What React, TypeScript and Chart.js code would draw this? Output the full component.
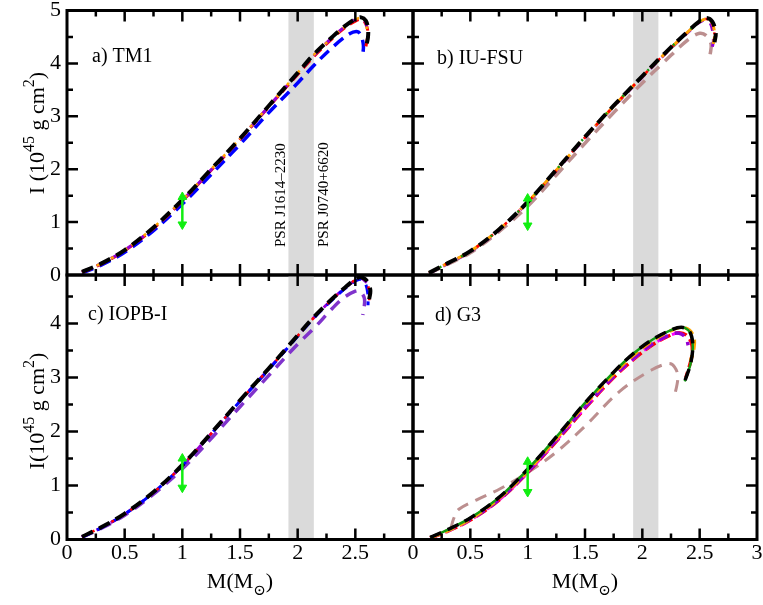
import React, { useEffect, useRef } from 'react';
import { Chart, registerables } from 'chart.js';
Chart.register(...registerables);

const FONT = '"Liberation Serif", "Times New Roman", "DejaVu Serif", serif';
const W = 763;
const H = 605;

// ---------- axis / annotation data ----------
const X_TICK_LABELS = ['0', '0.5', '1', '1.5', '2', '2.5', '3'];
const Y_TICK_LABELS = ['0', '1', '2', '3', '4', '5'];
const BAND = [1.92, 2.14];
const PSR_LABELS = ['PSR J1614\u20132230', 'PSR J0740+6620'];
const PANEL_LABELS = ['a) TM1', 'b) IU-FSU', 'c) IOPB-I', 'd) G3'];
const ARROW_M = 1.0;
const ARROW_A = [0.955, 1.475];
const ARROW_B = [0.935, 1.445];
const ARROW_C = [0.96, 1.5];
const ARROW_D = [0.88, 1.44];

type Pt = [number, number];

// ---------- a) TM1 ----------
const A_BLACK: Pt[] = [[0.13, 0.06], [0.3, 0.22], [0.5, 0.47], [0.75, 0.9], [1.0, 1.42], [1.25, 2.0], [1.5, 2.58], [1.75, 3.2], [2.0, 3.82], [2.14, 4.17], [2.3, 4.5], [2.4, 4.69], [2.5, 4.84], [2.55, 4.87], [2.59, 4.81], [2.61, 4.66], [2.61, 4.5], [2.6, 4.38]];
const A_RED: Pt[] = [[0.13, 0.05], [0.3, 0.21], [0.5, 0.46], [0.75, 0.88], [1.0, 1.4], [1.25, 1.98], [1.5, 2.56], [1.75, 3.18], [2.0, 3.79], [2.14, 4.13], [2.3, 4.47], [2.4, 4.66], [2.5, 4.8], [2.55, 4.83], [2.59, 4.75], [2.61, 4.58], [2.6, 4.42], [2.59, 4.3]];
const A_PURPLE: Pt[] = [[0.13, 0.06], [0.3, 0.22], [0.5, 0.47], [0.75, 0.89], [1.0, 1.41], [1.25, 1.99], [1.5, 2.57], [1.75, 3.19], [2.0, 3.81], [2.14, 4.15], [2.3, 4.49], [2.4, 4.68], [2.5, 4.83], [2.55, 4.85], [2.59, 4.78], [2.6, 4.6]];
const A_ORANGE: Pt[] = [[0.13, 0.06], [0.3, 0.22], [0.5, 0.47], [0.75, 0.9], [1.0, 1.42], [1.25, 2.0], [1.5, 2.58], [1.75, 3.2], [2.0, 3.82], [2.14, 4.16], [2.3, 4.49], [2.4, 4.68], [2.5, 4.83], [2.55, 4.86], [2.59, 4.79], [2.6, 4.65]];
const A_BLUE: Pt[] = [[0.13, 0.04], [0.3, 0.19], [0.5, 0.43], [0.75, 0.84], [1.0, 1.34], [1.25, 1.9], [1.5, 2.47], [1.75, 3.07], [2.0, 3.63], [2.14, 3.96], [2.3, 4.3], [2.45, 4.56], [2.52, 4.6], [2.55, 4.52], [2.57, 4.34], [2.565, 4.17]];

// ---------- b) IU-FSU ----------
const B_BLACK: Pt[] = [[0.14, 0.04], [0.3, 0.22], [0.5, 0.45], [0.75, 0.86], [1.0, 1.38], [1.25, 1.99], [1.5, 2.61], [1.75, 3.2], [2.0, 3.76], [2.2, 4.2], [2.4, 4.61], [2.5, 4.8], [2.56, 4.86], [2.61, 4.79], [2.64, 4.58], [2.63, 4.4]];
const B_RED: Pt[] = [[0.14, 0.04], [0.3, 0.22], [0.5, 0.45], [0.75, 0.86], [1.0, 1.38], [1.25, 1.98], [1.5, 2.6], [1.75, 3.19], [2.0, 3.75], [2.2, 4.19], [2.4, 4.6], [2.5, 4.79], [2.56, 4.84], [2.61, 4.76], [2.63, 4.55]];
const B_PURPLE: Pt[] = [[0.14, 0.03], [0.3, 0.21], [0.5, 0.44], [0.75, 0.85], [1.0, 1.37], [1.25, 1.97], [1.5, 2.59], [1.75, 3.18], [2.0, 3.74], [2.2, 4.18], [2.4, 4.59], [2.5, 4.78], [2.56, 4.82], [2.6, 4.72], [2.62, 4.45], [2.61, 4.3]];
const B_ORANGE: Pt[] = [[0.14, 0.04], [0.3, 0.22], [0.5, 0.45], [0.75, 0.86], [1.0, 1.38], [1.25, 1.98], [1.5, 2.6], [1.75, 3.19], [2.0, 3.75], [2.2, 4.19], [2.4, 4.6], [2.5, 4.79], [2.56, 4.84], [2.61, 4.76], [2.63, 4.55], [2.62, 4.37]];
const B_GREEN: Pt[] = [[0.14, 0.04], [0.3, 0.22], [0.5, 0.45], [0.75, 0.86], [1.0, 1.38], [1.25, 1.99], [1.5, 2.61], [1.75, 3.2], [2.0, 3.76], [2.2, 4.2], [2.4, 4.61], [2.5, 4.8], [2.56, 4.86], [2.6, 4.82]];
const B_ROSY: Pt[] = [[0.14, 0.03], [0.3, 0.2], [0.5, 0.42], [0.75, 0.82], [1.0, 1.3], [1.25, 1.89], [1.5, 2.49], [1.75, 3.07], [2.0, 3.63], [2.2, 4.05], [2.4, 4.45], [2.5, 4.57], [2.56, 4.52], [2.6, 4.36], [2.59, 4.15]];

// ---------- c) IOPB-I ----------
const C_BLACK: Pt[] = [[0.13, 0.05], [0.3, 0.23], [0.5, 0.48], [0.75, 0.88], [1.0, 1.38], [1.25, 1.97], [1.5, 2.58], [1.75, 3.17], [1.93, 3.61], [2.14, 4.12], [2.3, 4.46], [2.4, 4.65], [2.5, 4.82], [2.55, 4.86], [2.6, 4.79], [2.63, 4.62], [2.62, 4.45]];
const C_RED: Pt[] = [[0.13, 0.05], [0.3, 0.23], [0.5, 0.47], [0.75, 0.87], [1.0, 1.37], [1.25, 1.96], [1.5, 2.57], [1.75, 3.16], [1.93, 3.6], [2.14, 4.11], [2.3, 4.45], [2.4, 4.64], [2.5, 4.81], [2.55, 4.85], [2.6, 4.76], [2.62, 4.58], [2.62, 4.42]];
const C_BLUE: Pt[] = [[0.13, 0.04], [0.3, 0.22], [0.5, 0.47], [0.75, 0.87], [1.0, 1.37], [1.25, 1.96], [1.5, 2.56], [1.75, 3.15], [1.93, 3.59], [2.14, 4.1], [2.3, 4.44], [2.4, 4.63], [2.5, 4.79], [2.55, 4.82], [2.59, 4.73], [2.61, 4.52], [2.61, 4.34]];
const C_PURPLE: Pt[] = [[0.13, 0.05], [0.3, 0.22], [0.5, 0.47], [0.75, 0.87], [1.0, 1.37], [1.25, 1.96], [1.5, 2.57], [1.75, 3.16], [1.93, 3.6], [2.14, 4.11], [2.3, 4.45], [2.4, 4.64], [2.5, 4.8], [2.55, 4.84], [2.6, 4.76]];
const C_VIOLET: Pt[] = [[0.13, 0.04], [0.3, 0.21], [0.5, 0.45], [0.75, 0.84], [1.0, 1.31], [1.25, 1.87], [1.5, 2.46], [1.75, 3.04], [2.0, 3.62], [2.14, 3.91], [2.3, 4.28], [2.4, 4.48], [2.5, 4.6], [2.54, 4.6], [2.58, 4.45], [2.565, 4.16]];

// ---------- d) G3 ----------
const D_GREEN: Pt[] = [[0.15, 0.04], [0.3, 0.18], [0.5, 0.4], [0.75, 0.78], [1.0, 1.3], [1.25, 1.9], [1.5, 2.53], [1.75, 3.1], [1.93, 3.46], [2.1, 3.72], [2.25, 3.88], [2.34, 3.93], [2.4, 3.88], [2.43, 3.76], [2.44, 3.55], [2.42, 3.25], [2.37, 2.93]];
const D_BLACK: Pt[] = [[0.15, 0.04], [0.3, 0.18], [0.5, 0.4], [0.75, 0.78], [1.0, 1.3], [1.25, 1.9], [1.5, 2.53], [1.75, 3.1], [1.93, 3.46], [2.1, 3.72], [2.25, 3.88], [2.34, 3.93], [2.4, 3.88], [2.43, 3.76], [2.44, 3.55], [2.42, 3.25], [2.37, 2.93]];
const D_ORANGE: Pt[] = [[0.15, 0.03], [0.3, 0.16], [0.5, 0.38], [0.75, 0.76], [1.0, 1.27], [1.25, 1.87], [1.5, 2.5], [1.75, 3.07], [1.93, 3.43], [2.1, 3.7], [2.25, 3.87], [2.34, 3.93], [2.41, 3.88], [2.45, 3.74], [2.45, 3.55], [2.42, 3.3]];
const D_PURPLE: Pt[] = [[0.15, 0.03], [0.3, 0.16], [0.5, 0.37], [0.75, 0.74], [1.0, 1.25], [1.25, 1.84], [1.5, 2.45], [1.75, 3.02], [1.93, 3.37], [2.1, 3.64], [2.25, 3.8], [2.32, 3.82], [2.38, 3.74], [2.4, 3.6]];
const D_MAGENTA: Pt[] = [[0.15, 0.02], [0.3, 0.15], [0.5, 0.36], [0.75, 0.73], [1.0, 1.24], [1.25, 1.83], [1.5, 2.44], [1.75, 3.01], [1.93, 3.36], [2.1, 3.63], [2.25, 3.79], [2.32, 3.82], [2.38, 3.76]];
const D_RED: Pt[] = [[0.15, 0.03], [0.3, 0.15], [0.5, 0.36], [0.75, 0.73], [1.0, 1.24], [1.25, 1.82], [1.5, 2.43], [1.75, 3.0], [1.93, 3.35], [2.1, 3.62], [2.25, 3.79], [2.32, 3.83], [2.38, 3.79], [2.43, 3.63], [2.43, 3.38], [2.38, 3.0]];
const D_ROSY: Pt[] = [[0.33, 0.2], [0.355, 0.39], [0.4, 0.56], [0.56, 0.74], [0.76, 0.94], [1.0, 1.24], [1.25, 1.62], [1.5, 2.1], [1.8, 2.74], [2.08, 3.14], [2.23, 3.26], [2.28, 3.2], [2.31, 3.02], [2.28, 2.64]];

// ---------- styles ----------
const BLACK = '#000000';
const RED = '#ff0000';
const BLUE = '#0000ff';
const PURPLE = '#9400d3';
const ORANGE = '#ffa500';
const GREEN = '#119911';
const ROSY = '#bc8f8f';
const VIOLET = '#8033cc';
const MAGENTA = '#ff00ff';
const LIME = '#11ee11';

interface SeriesDef { data: Pt[]; color: string; width: number; dash: number[]; order: number; }
interface PanelDef {
  label: string; labelX: number; labelY: number;
  series: SeriesDef[]; arrow: number[];
  left: number; top: number; right: number; bottom: number; yMax: number;
  showX: boolean; showY: boolean; hideLastX: boolean; psr: boolean;
  yTitle: null | { parts: [string, number, number][]; cy: number };
  xTitle: boolean;
}

const S = (data: Pt[], color: string, width: number, dash: number[], order: number): SeriesDef => ({ data, color, width, dash, order });

const PANELS: PanelDef[] = [
  {
    label: PANEL_LABELS[0], labelX: 92, labelY: 62,
    series: [
      S(A_BLUE, BLUE, 3.5, [12, 7], 6),
      S(A_RED, RED, 3, [10, 6], 5),
      S(A_PURPLE, PURPLE, 3, [8, 8], 4),
      S(A_ORANGE, ORANGE, 2.5, [3, 5], 3),
      S(A_BLACK, BLACK, 4, [12, 7], 2),
    ],
    arrow: ARROW_A, left: 67, top: 10.5, right: 413, bottom: 275, yMax: 5,
    showX: false, showY: true, hideLastX: true, psr: true,
    yTitle: { parts: [['I (10', 22, 0], ['45', 16, -10], [' g cm', 22, 0], ['2', 16, -10], [')', 22, 0]], cy: 133 },
    xTitle: false,
  },
  {
    label: PANEL_LABELS[1], labelX: 437, labelY: 64,
    series: [
      S(B_ROSY, ROSY, 3.5, [12, 8], 7),
      S(B_PURPLE, PURPLE, 3, [8, 8], 6),
      S(B_ORANGE, ORANGE, 3, [10, 6], 5),
      S(B_RED, RED, 2.5, [3, 6], 4),
      S(B_GREEN, GREEN, 2.5, [2, 10], 3),
      S(B_BLACK, BLACK, 4, [12, 7], 2),
    ],
    arrow: ARROW_B, left: 413, top: 10.5, right: 758, bottom: 275, yMax: 5,
    showX: false, showY: false, hideLastX: false, psr: false, yTitle: null, xTitle: false,
  },
  {
    label: PANEL_LABELS[2], labelX: 88, labelY: 320,
    series: [
      S(C_VIOLET, VIOLET, 3.5, [12, 8], 7),
      S(C_PURPLE, PURPLE, 3, [8, 8], 6),
      S(C_BLUE, BLUE, 3, [10, 7], 5),
      S(C_RED, RED, 2.5, [3, 8], 4),
      S(C_BLACK, BLACK, 4, [12, 7], 2),
    ],
    arrow: ARROW_C, left: 67, top: 275, right: 413, bottom: 539.5, yMax: 4.9,
    showX: true, showY: true, hideLastX: true, psr: false,
    yTitle: { parts: [['I(10', 22, 0], ['45', 16, -10], [' g cm', 22, 0], ['2', 16, -10], [')', 22, 0]], cy: 411 },
    xTitle: true,
  },
  {
    label: PANEL_LABELS[3], labelX: 435, labelY: 321,
    series: [
      S(D_ROSY, ROSY, 3, [12, 8], 9),
      S(D_RED, RED, 3.5, [12, 5], 8),
      S(D_MAGENTA, MAGENTA, 3, [8, 8], 7),
      S(D_PURPLE, PURPLE, 3.5, [10, 7], 6),
      S(D_ORANGE, ORANGE, 3.5, [10, 6], 5),
      S(D_GREEN, GREEN, 2.5, [], 3),
      S(D_BLACK, BLACK, 3.5, [12, 7], 2),
    ],
    arrow: ARROW_D, left: 413, top: 275, right: 758, bottom: 539.5, yMax: 4.9,
    showX: true, showY: false, hideLastX: false, psr: false, yTitle: null, xTitle: true,
  },
];

function drawRich(ctx: CanvasRenderingContext2D, parts: [string, number, number][], cx: number, cy: number, rot: number) {
  ctx.save();
  ctx.translate(cx, cy);
  ctx.rotate(rot);
  ctx.fillStyle = '#000';
  ctx.textAlign = 'left';
  ctx.textBaseline = 'alphabetic';
  const widths = parts.map(([t, size]) => {
    ctx.font = `${size}px ${FONT}`;
    return ctx.measureText(t).width;
  });
  let x = -widths.reduce((a, b) => a + b, 0) / 2;
  parts.forEach(([t, size, shift], i) => {
    ctx.font = `${size}px ${FONT}`;
    ctx.fillText(t, x, shift);
    x += widths[i];
  });
  ctx.restore();
}

function makePlugin(p: PanelDef, idx: number) {
  return {
    id: 'panelDeco' + idx,
    beforeDatasetsDraw(chart: any) {
      const { ctx, chartArea: a, scales } = chart;
      const x = scales.x;
      const x1 = x.getPixelForValue(BAND[0]);
      const x2 = x.getPixelForValue(BAND[1]);
      ctx.save();
      ctx.fillStyle = '#dadada';
      ctx.fillRect(x1, a.top, x2 - x1, a.bottom - a.top);
      if (p.psr) {
        ctx.fillStyle = '#000';
        ctx.font = `15px ${FONT}`;
        ctx.textAlign = 'left';
        ctx.textBaseline = 'alphabetic';
        ctx.save();
        ctx.translate(x1 - 3, a.top + 236.5);
        ctx.rotate(-Math.PI / 2);
        ctx.fillText(PSR_LABELS[0], 0, 0);
        ctx.restore();
        ctx.save();
        ctx.translate(x2 + 14, a.top + 236.5);
        ctx.rotate(-Math.PI / 2);
        ctx.fillText(PSR_LABELS[1], 0, 0);
        ctx.restore();
      }
      ctx.restore();
    },
    afterDraw(chart: any) {
      const { ctx, chartArea: a, scales } = chart;
      const x = scales.x;
      const y = scales.y;
      ctx.save();
      ctx.strokeStyle = '#000';
      ctx.lineWidth = 2.5;
      ctx.lineCap = 'butt';
      ctx.beginPath();
      for (let k = 1; k < 12; k++) {
        const v = k * 0.25;
        const px = x.getPixelForValue(v);
        const len = k % 2 === 0 ? 11 : 6;
        ctx.moveTo(px, a.bottom); ctx.lineTo(px, a.bottom - len);
        ctx.moveTo(px, a.top); ctx.lineTo(px, a.top + len);
      }
      for (let k = 1; k * 0.5 < p.yMax; k++) {
        const v = k * 0.5;
        const py = y.getPixelForValue(v);
        const len = k % 2 === 0 ? 11 : 6;
        ctx.moveTo(a.left, py); ctx.lineTo(a.left + len, py);
        ctx.moveTo(a.right, py); ctx.lineTo(a.right - len, py);
      }
      ctx.stroke();
      ctx.lineWidth = 3;
      ctx.strokeRect(a.left, a.top, a.right - a.left, a.bottom - a.top);

      ctx.fillStyle = '#000';
      ctx.font = `20px ${FONT}`;
      ctx.textAlign = 'left';
      ctx.textBaseline = 'alphabetic';
      ctx.fillText(p.label, p.labelX, p.labelY);
      ctx.restore();

      if (p.yTitle) drawRich(ctx, p.yTitle.parts, 44, p.yTitle.cy, -Math.PI / 2);
      if (p.xTitle) {
        drawRich(ctx, [['M(M', 22, 0], ['\u2299', 15, 7], [')', 22, 0]], (a.left + a.right) / 2, 588, 0);
      }
    },
  };
}

function buildConfig(p: PanelDef, idx: number): any {
  const datasets: any[] = p.series.map((s) => ({
    data: s.data.map(([mx, iy]) => ({ x: mx, y: iy })),
    showLine: true,
    borderColor: s.color,
    backgroundColor: s.color,
    borderWidth: s.width,
    borderDash: s.dash,
    borderCapStyle: 'butt',
    pointRadius: 0,
    tension: 0.35,
    fill: false,
    order: s.order,
  }));
  datasets.push({
    data: [{ x: ARROW_M, y: p.arrow[0] }, { x: ARROW_M, y: p.arrow[1] }],
    showLine: true,
    borderColor: LIME,
    borderWidth: 2.5,
    pointStyle: 'triangle',
    pointRadius: 5,
    pointRotation: [180, 0],
    pointBackgroundColor: LIME,
    pointBorderColor: LIME,
    pointBorderWidth: 1,
    tension: 0,
    order: 0,
  });
  const tickFont = { family: FONT, size: 22 };
  return {
    type: 'scatter',
    data: { datasets },
    options: {
      animation: false,
      responsive: false,
      devicePixelRatio: 1,
      layout: { padding: { left: 0, right: W - p.right, top: p.top, bottom: 0 } },
      plugins: { legend: { display: false }, tooltip: { enabled: false } },
      scales: {
        x: {
          type: 'linear', position: 'bottom', min: 0, max: 3,
          grid: { display: false, drawTicks: false },
          border: { display: false },
          ticks: {
            display: p.showX, stepSize: 0.5, autoSkip: false, maxRotation: 0, minRotation: 0,
            includeBounds: false, padding: 1, color: '#000', font: tickFont,
            callback: (v: number) => {
              if (p.hideLastX && v >= 3) return '';
              const i = Math.round(v * 2);
              return Math.abs(v * 2 - i) < 1e-6 ? X_TICK_LABELS[i] : '';
            },
          },
          afterFit: (s: any) => { s.height = H - p.bottom; s.paddingLeft = 0; s.paddingRight = 0; },
        },
        y: {
          type: 'linear', position: 'left', min: 0, max: p.yMax,
          grid: { display: false, drawTicks: false },
          border: { display: false },
          ticks: {
            display: p.showY, stepSize: 1, includeBounds: false, padding: 6, color: '#000', font: tickFont,
            callback: (v: number) => (Number.isInteger(v) ? Y_TICK_LABELS[v] : ''),
          },
          afterFit: (s: any) => { s.width = p.left; s.paddingTop = 0; s.paddingBottom = 0; },
        },
      },
    },
    plugins: [makePlugin(p, idx)],
  };
}

export default function App() {
  const refs = useRef<(HTMLCanvasElement | null)[]>([]);
  useEffect(() => {
    const charts = PANELS.map((p, i) => new Chart(refs.current[i] as HTMLCanvasElement, buildConfig(p, i)));
    return () => charts.forEach((c) => c.destroy());
  }, []);
  return (
    <div style={{ position: 'fixed', left: 0, top: 0, width: W, height: H, background: '#fff' }}>
      {PANELS.map((p, i) => (
        <canvas
          key={i}
          ref={(el) => { refs.current[i] = el; }}
          width={W}
          height={H}
          style={{ position: 'absolute', left: 0, top: 0, width: W, height: H }}
        />
      ))}
    </div>
  );
}
